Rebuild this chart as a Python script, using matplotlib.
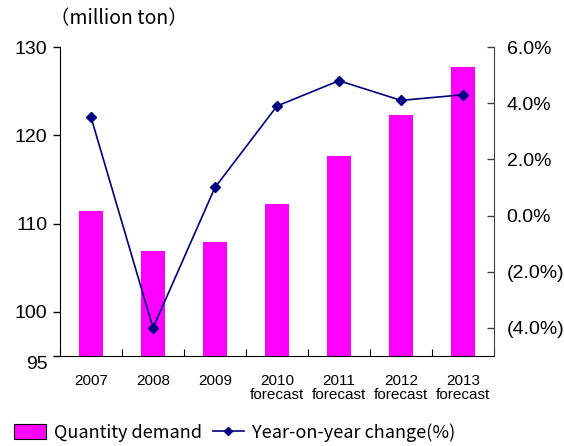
import numpy as np
import matplotlib.pyplot as plt
from matplotlib.patches import Patch
from matplotlib.lines import Line2D

years = ['2007', '2008', '2009', '2010\nforecast', '2011\nforecast',
         '2012\nforecast', '2013\nforecast']
demand = [111.4, 106.9, 107.9, 112.2, 117.6, 122.3, 127.7]
yoy_change = [3.5, -4.0, 1.0, 3.9, 4.8, 4.1, 4.3]

left_ticks = [95, 100, 110, 120, 130]
right_ticks = [-4, -2, 0, 2, 4, 6]

plt.rcParams['font.family'] = ['Liberation Sans', 'DejaVu Sans']
cjk = ['Noto Sans CJK JP', 'DejaVu Sans']

fig = plt.figure(figsize=(5.64, 4.46), dpi=100)
ax = fig.add_axes([0.1064, 0.2018, 0.7695, 0.6928])
ax2 = ax.twinx()

x = np.arange(len(years))
ax.bar(x, demand, width=0.4, color='#FF00FF', zorder=2)
ax.set_ylim(95, 130)
ax.set_xlim(-0.5, len(years) - 0.5)
ax.set_yticks(left_ticks)
ax.set_yticklabels([str(t) for t in left_ticks], fontsize=14)
ax.yaxis.get_majorticklabels()[0].set_va('top')
ax.tick_params(axis='y', direction='out', length=5, width=1, pad=4)
ax.set_xticks(x)
ax.set_xticklabels(years, fontsize=11, linespacing=1.0)
ax.tick_params(axis='x', length=0, pad=13)
ax.set_xticks(np.arange(len(years) + 1) - 0.5, minor=True)
ax.tick_params(axis='x', which='minor', direction='in', length=5, width=0.8)
ax.spines['top'].set_visible(False)
ax.spines['right'].set_visible(False)

ax2.plot(x, yoy_change, color='#000080', lw=1.2, marker='D', markersize=5,
         zorder=3)
ax2.set_ylim(-5, 6)
ax2.set_yticks(right_ticks)
ax2.set_yticklabels(['(4.0%)', '(2.0%)', '0.0%', '2.0%', '4.0%', '6.0%'],
                    fontsize=14)
ax2.tick_params(axis='y', direction='in', length=5, width=1, pad=9,
                color='#404040')
ax2.spines['top'].set_visible(False)
ax2.spines['left'].set_visible(False)
ax2.spines['bottom'].set_visible(False)
ax2.spines['right'].set_color('#404040')

fig.text(0.088, 0.958, '（million ton）', fontsize=14, family=cjk,
         ha='left', va='center')

handles = [Patch(facecolor='#FF00FF', edgecolor='black', lw=0.8),
           Line2D([], [], color='#000080', lw=1.2, marker='D', markersize=4)]
fig.legend(handles, ['Quantity demand', 'Year-on-year change(%)'],
           loc='center left', bbox_to_anchor=(0.025, 0.03), ncol=2,
           frameon=False, prop={'family': cjk, 'size': 13},
           borderpad=0, borderaxespad=0,
           handlelength=1.75, handleheight=0.9, handletextpad=0.45,
           columnspacing=0.6)

fig.savefig('out.png', dpi=100)
